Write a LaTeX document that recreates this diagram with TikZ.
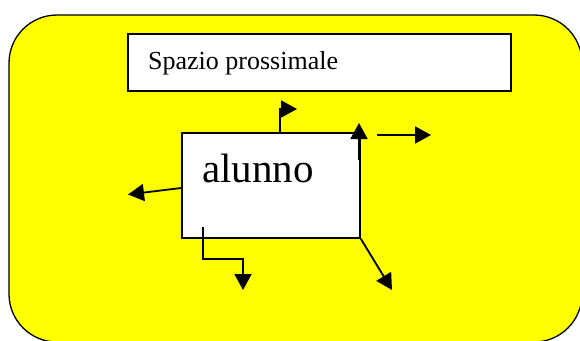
\documentclass[tikz,border=0pt]{standalone}
\usepackage{fontspec}
\setmainfont{Liberation Serif}
\usetikzlibrary{arrows.meta}
\definecolor{bgyellow}{RGB}{255,255,0}
\begin{document}
\begin{tikzpicture}[x=1pt,y=-1pt,
  arr/.style={line width=1.8pt,-{Triangle[length=16pt,width=17pt]}},
  boxst/.style={draw,line width=1.9pt,fill=white,inner sep=0pt,anchor=north west},
  txt/.style={inner sep=0pt,anchor=base west}]
\useasboundingbox (0,0) rectangle (580,340);
\begin{scope}
\clip (0,0) rectangle (580,340);
\draw[fill=bgyellow,line width=1.3pt,rounded corners=48pt] (9,15) rectangle (582,342);
\end{scope}
\node[boxst,minimum width=383pt,minimum height=57pt] (spazio) at (127,33) {};
\node[txt,font=\fontsize{26}{30}\selectfont] (spaziotxt) at (148,69) {Spazio prossimale};
\node[boxst,minimum width=178pt,minimum height=105pt] (al) at (181,132) {};
\node[txt,font=\fontsize{41}{48}\selectfont] (altxt) at (202,182) {alunno};
% connector end points
\coordinate (a1s) at (280,132);
\coordinate (a1e) at (297,109);
\coordinate (a2s) at (359,160);
\coordinate (a2e) at (359,123);
\coordinate (a3s) at (377,135);
\coordinate (a3e) at (431,135);
\coordinate (a4s) at (181,188);
\coordinate (a4e) at (128,194.5);
\coordinate (a5s) at (203,227);
\coordinate (a5m) at (243,259);
\coordinate (a5e) at (243,290);
\coordinate (a6e) at (392,290);
\draw[arr] (a1s) |- (a1e);
\draw[arr] (a2s) -- (a2e);
\draw[arr] (a3s) -- (a3e);
\draw[arr] (a4s) -- (a4e);
\draw[arr] (a5s) |- (a5m) -- (a5e);
\draw[arr] (al.south east) -- (a6e);
\end{tikzpicture}
\end{document}
